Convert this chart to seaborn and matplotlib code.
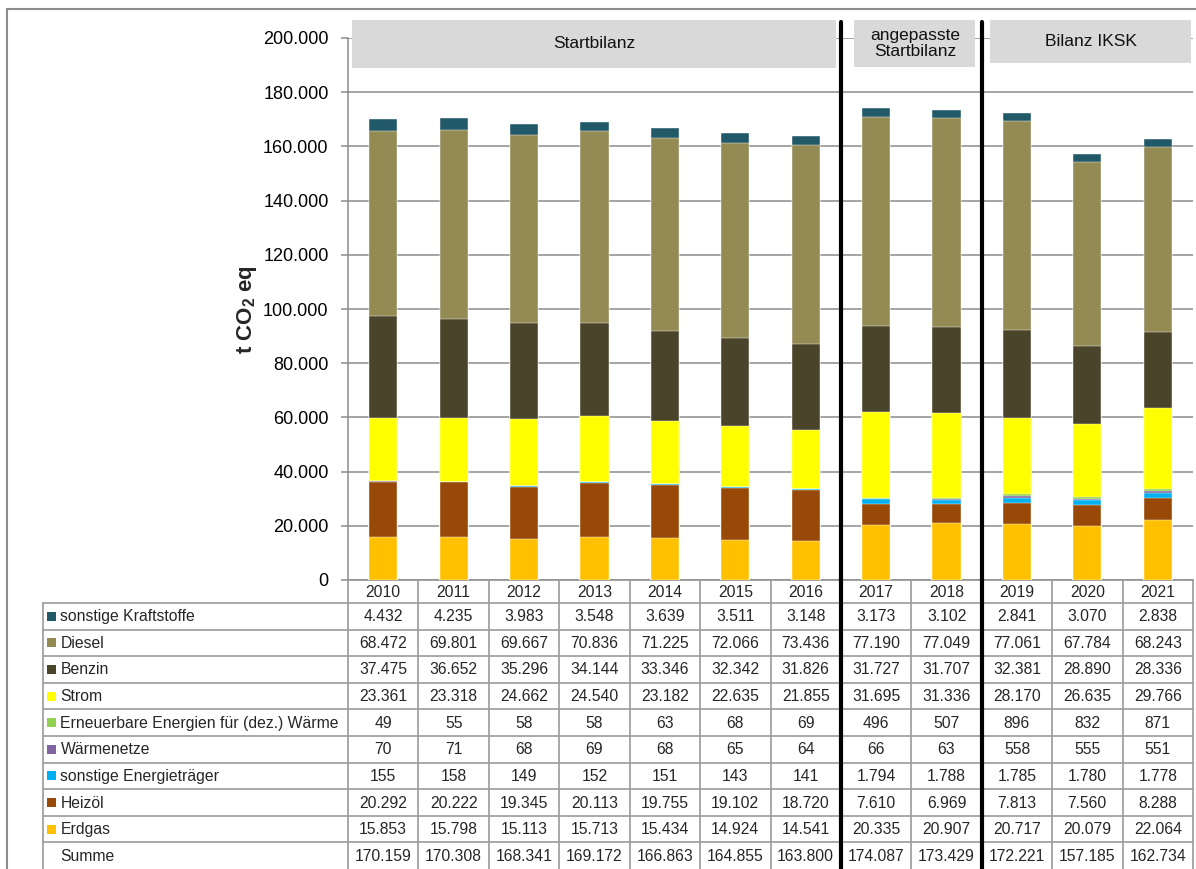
import pandas as pd
import seaborn as sns
import matplotlib.pyplot as plt
from matplotlib.patches import Rectangle
from matplotlib.ticker import FuncFormatter

# --- data (t CO2 eq) ---
years = ["2010", "2011", "2012", "2013", "2014", "2015", "2016",
         "2017", "2018", "2019", "2020", "2021"]

sonstige_kraftstoffe = [4432, 4235, 3983, 3548, 3639, 3511, 3148, 3173, 3102, 2841, 3070, 2838]
diesel = [68472, 69801, 69667, 70836, 71225, 72066, 73436, 77190, 77049, 77061, 67784, 68243]
benzin = [37475, 36652, 35296, 34144, 33346, 32342, 31826, 31727, 31707, 32381, 28890, 28336]
strom = [23361, 23318, 24662, 24540, 23182, 22635, 21855, 31695, 31336, 28170, 26635, 29766]
erneuerbare = [49, 55, 58, 58, 63, 68, 69, 496, 507, 896, 832, 871]
waermenetze = [70, 71, 68, 69, 68, 65, 64, 66, 63, 558, 555, 551]
sonstige_energie = [155, 158, 149, 152, 151, 143, 141, 1794, 1788, 1785, 1780, 1778]
heizoel = [20292, 20222, 19345, 20113, 19755, 19102, 18720, 7610, 6969, 7813, 7560, 8288]
erdgas = [15853, 15798, 15113, 15713, 15434, 14924, 14541, 20335, 20907, 20717, 20079, 22064]
summe = [170159, 170308, 168341, 169172, 166863, 164855, 163800,
         174087, 173429, 172221, 157185, 162734]

# table / legend order (top of stack first)
carriers = ["sonstige Kraftstoffe", "Diesel", "Benzin", "Strom",
            "Erneuerbare Energien für (dez.) Wärme", "Wärmenetze",
            "sonstige Energieträger", "Heizöl", "Erdgas"]
series = [sonstige_kraftstoffe, diesel, benzin, strom, erneuerbare,
          waermenetze, sonstige_energie, heizoel, erdgas]
colors = ["#215968", "#948A54", "#4A452A", "#FFFF00", "#92D050",
          "#8064A2", "#00B0F0", "#984807", "#FFC000"]

groups = ["Startbilanz", "angepasste\nStartbilanz", "Bilanz IKSK"]

df = pd.DataFrame(dict(zip(carriers, series)), index=years)


def fmt(v):
    return f"{int(v):,}".replace(",", ".")


sns.set_theme(style="white")
plt.rcParams["font.family"] = ["Liberation Sans", "DejaVu Sans"]
plt.rcParams["mathtext.fontset"] = "custom"
plt.rcParams["mathtext.rm"] = "Liberation Sans"
plt.rcParams["mathtext.bf"] = "Liberation Sans:bold"

W, H = 1196, 869
fig = plt.figure(figsize=(W / 100, H / 100), dpi=100)
fig.patch.set_facecolor("white")

# pixel layout
x0, x1, y_top, y_bot = 348, 1193, 38, 580
colw = (x1 - x0) / len(years)
grey = "#8c8c8c"

ax = fig.add_axes([x0 / W, 1 - y_bot / H, (x1 - x0) / W, (y_bot - y_top) / H])

# stacked bars: draw cumulative totals from the top layer down
cum = df[carriers[::-1]].cumsum(axis=1)
for name, col in zip(carriers, colors):
    sns.barplot(x=years, y=cum[name].values, color=col, width=0.4,
                saturation=1, errorbar=None, edgecolor="white",
                linewidth=0.3, ax=ax, zorder=3)

ax.set_xlim(-0.5, len(years) - 0.5)
ax.set_ylim(0, 200000)
ax.set_yticks(range(0, 200001, 20000))
ax.yaxis.set_major_formatter(FuncFormatter(lambda v, p: fmt(v)))
ax.yaxis.grid(True, color=grey, lw=1.1)
ax.set_axisbelow(True)
ax.set_xlabel("")
ax.set_ylabel("")
ax.tick_params(axis="x", bottom=False, labelbottom=False)
ax.tick_params(axis="y", left=True, length=5, width=1.1, color=grey,
               pad=9, labelsize=13, labelcolor="black")
for s in ["top", "right"]:
    ax.spines[s].set_visible(False)
for s in ["left", "bottom"]:
    ax.spines[s].set_color(grey)
    ax.spines[s].set_linewidth(1.1)

fig.text(247 / W, 1 - 310 / H, r"t CO$_\mathbf{2}$ eq", rotation=90,
         fontsize=16, fontweight="bold", ha="center", va="center")

# period header boxes (x in bar units, y in t CO2 eq)
per_px = 200000 / (y_bot - y_top)
boxes = [(-0.443, 6.43, 20, 68), (6.69, 8.41, 20, 66.7), (8.62, 11.47, 20, 63.3)]
for label, (bx0, bx1, py0, py1) in zip(groups, boxes):
    yb = 200000 - (py1 - y_top) * per_px
    yt = 200000 - (py0 - y_top) * per_px
    ax.add_patch(Rectangle((bx0, yb), bx1 - bx0, yt - yb, facecolor="#d9d9d9",
                           edgecolor="none", clip_on=False, zorder=5))
    ax.text((bx0 + bx1) / 2, (yb + yt) / 2, label, ha="center", va="center",
            fontsize=12.5, color="#111111", zorder=6, linespacing=1.05)

# thick separators between periods
y_sep = 200000 - (22 - y_top) * per_px
for xs in [6.5, 8.5]:
    ax.plot([xs, xs], [0, y_sep], color="black", lw=3, clip_on=False, zorder=7)

# --- data table below the chart ---
tab_h = H - y_bot
lab_x = 43
tab = fig.add_axes([lab_x / W, 0, (x1 - lab_x) / W, tab_h / H])
xl = -0.5 - (x0 - lab_x) / colw
tab.set_xlim(xl, len(years) - 0.5)
tab.set_ylim(tab_h, 0)
tab.axis("off")

head_h = 23
row_h = (tab_h - head_h) / (len(carriers) + 1)
lw_t = 1.2
tcol = "#9a9a9a"

for i in range(len(carriers) + 1):
    yy = head_h + i * row_h
    tab.plot([xl, len(years) - 0.5], [yy, yy], color=tcol, lw=lw_t, clip_on=False)
tab.plot([xl, xl], [head_h, tab_h], color=tcol, lw=lw_t, clip_on=False)
for k in range(len(years) + 1):
    xk = k - 0.5
    tab.plot([xk, xk], [0, tab_h], color=tcol, lw=lw_t, clip_on=False)
for xs in [6.5, 8.5]:
    tab.plot([xs, xs], [0, tab_h], color="black", lw=3, clip_on=False, zorder=7)

for j, yr in enumerate(years):
    tab.text(j, head_h / 2 + 1, yr, ha="center", va="center", fontsize=11.3)

sq = 9
x_sq = xl + 4.5 / colw
x_txt = xl + 17.5 / colw
rows = list(zip(carriers, series, colors)) + [("Summe", summe, None)]
for i, (name, vals, col) in enumerate(rows):
    yc = head_h + (i + 0.5) * row_h
    if col is not None:
        tab.add_patch(Rectangle((x_sq, yc - sq / 2), sq / colw, sq,
                                facecolor=col, edgecolor="none"))
    tab.text(x_txt, yc + 0.5, name, ha="left", va="center", fontsize=11.3)
    for j, v in enumerate(vals):
        tab.text(j, yc + 0.5, fmt(v), ha="center", va="center", fontsize=11.3)

# outer chart frame
fig.add_artist(Rectangle((7 / W, -0.01), 1.0, 1 - 9 / H + 0.01,
                         transform=fig.transFigure, fill=False,
                         edgecolor=grey, lw=1.5))

fig.savefig("out.png", dpi=100)
